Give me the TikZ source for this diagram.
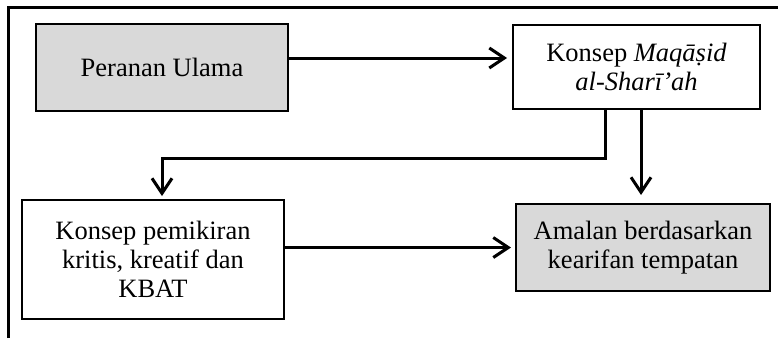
\documentclass[tikz,border=0pt]{standalone}
\usepackage{fontspec}
\setmainfont{Liberation Serif}
\usetikzlibrary{arrows.meta,positioning}

\tikzset{
  blok/.style={draw, line width=2pt, align=center, inner sep=0pt,
    font=\fontsize{26.5}{29}\selectfont},
  blokgrey/.style={blok, fill=black!15},
  panah/.style={line width=3pt, -{Straight Barb[length=15pt,width=20pt,line width=3pt]}}
}

\begin{document}
\begin{tikzpicture}[x=1pt,y=-1pt]
            % Frame
            \useasboundingbox (0,0) rectangle (778,338);
            \draw[line width=3pt] (8,338) -- (8,7) -- (778,7);

            % Boxes
            \node[blokgrey, minimum width=252pt, minimum height=87pt] (ulama) at (162,67.5) {Peranan Ulama};
            \node[blok, minimum width=247pt, minimum height=84pt] (maqasid) at (636.5,67) {Konsep \textit{Maqāṣid}\\\textit{al-Sharī’ah}};
            \node[blok, minimum width=262pt, minimum height=119pt] (kritis) at (153,259.5) {Konsep pemikiran\\kritis, kreatif dan\\KBAT};
            \node[blokgrey, minimum width=254pt, minimum height=87pt] (amalan) at (643,247.5) {Amalan berdasarkan\\kearifan tempatan};

            % Arrows
            \draw[panah, shorten >=5pt] ([yshift=9.5pt]ulama.east) -- ([yshift=9pt]maqasid.west);
            \draw[panah, shorten >=4pt] (kritis.east |- amalan) -- (amalan);
            \draw[panah, shorten >=8pt] ([xshift=4.5pt]maqasid.south) -- ([xshift=4.5pt]maqasid.south |- amalan.north);
            \draw[panah, shorten >=3pt] ([xshift=-31.5pt]maqasid.south) -- ++(0,48) -| ([xshift=9pt]kritis.north);

\end{tikzpicture}
\end{document}
